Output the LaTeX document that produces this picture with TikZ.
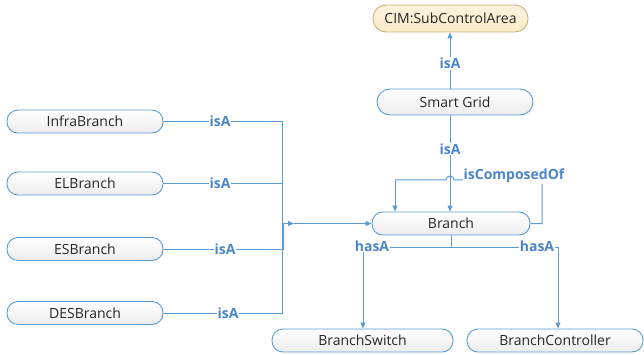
\documentclass[tikz,border=0pt]{standalone}
\usepackage{fontspec}
\setmainfont{Open Sans}
\usetikzlibrary{arrows.meta,calc}
\definecolor{lblue}{HTML}{5B9BD5}
\definecolor{tblue}{HTML}{4A86C8}
\definecolor{txtgray}{HTML}{262626}
\definecolor{cimfill}{HTML}{FBEBC8}
\definecolor{cimdraw}{HTML}{C9B27C}
\tikzset{
  x=1pt, y=-1pt,
  box/.style={draw=lblue, line width=0.9pt, rounded corners=11pt, top color=white, bottom color=blue!4!gray!14,
    minimum height=23pt, text=txtgray, font=\fontsize{14}{16}\selectfont, inner sep=0pt},
  cimbox/.style={box, draw=cimdraw, top color=cimfill!60, bottom color=cimfill, rounded corners=13pt, minimum height=27pt},
  conn/.style={draw=lblue, line width=1pt},
  arr/.style={conn, -{Triangle[length=6pt,width=5pt]}},
  lab/.style={text=tblue, font=\bfseries\fontsize{14}{16}\selectfont, fill=white, inner sep=1pt},
}
\begin{document}
\begin{tikzpicture}
\useasboundingbox (0,0) rectangle (644,355);
\node[cimbox, minimum width=155pt] (cim) at (450.5,18.5) {CIM:SubControlArea};
\node[box, minimum width=156pt, minimum height=26pt, rounded corners=13pt] (sg) at (455,102) {Smart Grid};
\node[box, minimum width=158pt] (br) at (451,223.5) {Branch};
\node[box, minimum width=156pt] (ib) at (85,121.5) {InfraBranch};
\node[box, minimum width=156pt] (el) at (85,183.5) {ELBranch};
\node[box, minimum width=156pt] (es) at (85,249) {ESBranch};
\node[box, minimum width=156pt] (des) at (85,313) {DESBranch};
\node[box, minimum width=181pt] (bs) at (362.5,340.5) {BranchSwitch};
\node[box, minimum width=176pt] (bc) at (555,340.5) {BranchController};

\coordinate (j) at (282,223.5);
\coordinate (jm) at (294,223.5);
% smart grid isA cim
\draw[arr] (sg.north -| 450,0) -- (cim.south -| 450,0) node[lab, pos=0.45] {isA};
% smart grid -> branch
\draw[arr] (sg.south -| 450,0) -- (br.north -| 450,0) node[lab, pos=0.35] {isA};
% left connectors
\draw[conn] (ib.east) -- (ib.east -| j) -- (des.east -| j) -- (des.east);
\draw[conn] (el.east) -- (el.east -| j);
\draw[conn] (es.east) -- (es.east -| 283,0) -- (283,223.5);
\draw[arr] (j) -- (jm);
\draw[arr] (jm) -- (br.west);
\node[lab] at (220,121.5) {isA};
\node[lab] at (220,183.5) {isA};
\node[lab] at (225,249) {isA};
\node[lab] at (228,313) {isA};
% isComposedOf loop with jump
\draw[conn] (br.east) -- (542,223.5) -- (542,180) -- (454,180) arc[start angle=0, end angle=180, radius=4pt] -- (395,180);
\draw[arr] (395,180) -- (br.north -| 395,0);
\node[lab, inner sep=0.5pt] at (514,176) {isComposedOf};
% hasA
\draw[conn] (br.south -| 451,0) -- (451,247);
\draw[arr] (451,247) -- (363,247) -- (bs.north -| 363,0);
\draw[arr] (451,247) -- (558,247) -- (bc.north -| 558,0);
\node[lab] at (372,246) {hasA};
\node[lab] at (537,246) {hasA};
\end{tikzpicture}
\end{document}
